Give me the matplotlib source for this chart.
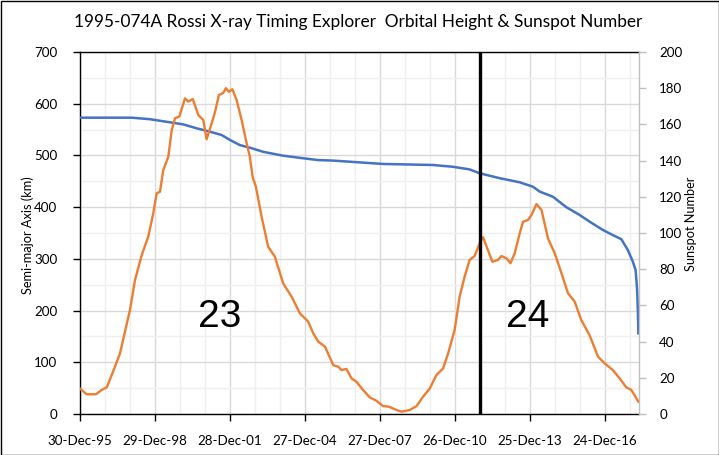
import datetime as dt
import matplotlib
matplotlib.use("Agg")
import matplotlib.pyplot as plt
import matplotlib.dates as mdates
from matplotlib.patches import Rectangle

# ---------------- data ----------------
title = "1995-074A Rossi X-ray Timing Explorer  Orbital Height & Sunspot Number"
left_label = "Semi-major Axis (km)"
right_label = "Sunspot Number"

tick_dates = ["1995-12-30", "1998-12-29", "2001-12-28", "2004-12-27",
              "2007-12-27", "2010-12-26", "2013-12-25", "2016-12-24"]
tick_labels = ["30-Dec-95", "29-Dec-98", "28-Dec-01", "27-Dec-04",
               "27-Dec-07", "26-Dec-10", "25-Dec-13", "24-Dec-16"]
x_start = "1995-12-30"
x_end = "2018-04-30"
decommission_date = "2012-01-05"

# orbital height (decimal year, km)
sma_year = [1996.0, 1998.08, 1998.81, 1999.48, 2000.14, 2000.67, 2001.20, 2001.67,
            2002.0, 2002.40, 2002.87, 2003.33, 2004.13, 2004.93, 2005.53, 2006.13,
            2008.12, 2010.12, 2010.92, 2011.58, 2011.98, 2012.78, 2013.58, 2014.11,
            2014.38, 2014.91, 2015.44, 2015.97, 2016.37, 2016.90, 2017.30, 2017.64,
            2017.90, 2018.10, 2018.21, 2018.27, 2018.30, 2018.32]
sma_km = [573, 573, 570, 565, 560, 552.5, 546, 539.5,
          530, 520, 514, 507, 499.5, 494.5, 491, 490,
          483.5, 481.5, 478, 473, 465.5, 456, 448, 439.5,
          430, 420, 400, 385, 372, 356, 346, 338,
          317, 294.5, 278.5, 240, 201, 156]

# smoothed sunspot number (decimal year, SSN)
ssn_year = [1996.0, 1996.28, 1996.65, 1996.88, 1997.08, 1997.28, 1997.61, 1998.01,
            1998.21, 1998.48, 1998.74, 1998.94, 1999.08, 1999.21, 1999.34, 1999.54,
            1999.68, 1999.81, 1999.98, 2000.21, 2000.34, 2000.52, 2000.74, 2000.94,
            2001.07, 2001.21, 2001.41, 2001.56, 2001.74, 2001.84, 2001.96, 2002.10,
            2002.27, 2002.47, 2002.67, 2002.80, 2002.91, 2003.04, 2003.27, 2003.53,
            2003.80, 2004.13, 2004.47, 2004.80, 2005.13, 2005.33, 2005.53, 2005.80,
            2006.13, 2006.33, 2006.46, 2006.66, 2006.86, 2007.06, 2007.32, 2007.59,
            2007.86, 2008.12, 2008.36, 2008.66, 2008.86, 2009.19, 2009.46, 2009.72,
            2009.99, 2010.25, 2010.52, 2010.72, 2010.98, 2011.18, 2011.38, 2011.58,
            2011.78, 2011.98, 2012.12, 2012.31, 2012.49, 2012.71, 2012.85, 2013.05,
            2013.21, 2013.38, 2013.58, 2013.71, 2013.91, 2014.05, 2014.25, 2014.45,
            2014.71, 2014.98, 2015.25, 2015.51, 2015.78, 2016.04, 2016.37, 2016.71,
            2016.97, 2017.30, 2017.57, 2017.84, 2018.04, 2018.32]
ssn_value = [14.2, 10.9, 10.9, 13.3, 14.7, 21.5, 33.5, 57.5,
             74, 87.8, 98, 110.9, 122, 122.8, 134.8, 142,
             157, 163.4, 164.3, 174.4, 172.6, 174, 165.2, 162.4,
             151.8, 157.8, 167, 176.2, 177.5, 180, 178, 179.4,
             173.5, 162.4, 149.6, 142, 131, 125.6, 109, 92.4,
             86.9, 72.2, 64.8, 55.6, 51, 44.6, 40, 37.2,
             27, 26.1, 24.3, 24.9, 19.7, 17.8, 13.3, 9.2,
             7.3, 4.4, 4.0, 2.2, 1.3, 2.2, 4.4, 9.6,
             14.2, 21.5, 25.2, 33.5, 46.4, 64.8, 75.9, 85.1,
             87.3, 94.3, 97.6, 90.6, 84.1, 85.1, 87.3, 86,
             83.3, 88.8, 99.8, 106.2, 107.2, 109.9, 116, 112.7,
             97, 88.8, 77.7, 66.7, 62, 51.9, 43.6, 31.7,
             28, 24.3, 19.7, 14.7, 13.3, 6.8]

cycle_labels = ["23", "24"]
cycle_year = [2001.58, 2013.88]
cycle_ssn = [53.6, 53.6]


def to_date(y):
    yi = int(y)
    return dt.datetime(yi, 1, 1) + dt.timedelta(days=(y - yi) * 365.25)


def parse(s):
    return dt.datetime.strptime(s, "%Y-%m-%d")


# ---------------- figure ----------------
plt.rcParams["font.family"] = ["Lato", "DejaVu Sans"]
W, H = 719, 455
fig = plt.figure(figsize=(W / 100, H / 100), dpi=100)
fig.patch.set_facecolor("white")

L, R, T, B = 79.5, 638.5, 52, 414
ax = fig.add_axes([L / W, 1 - B / H, (R - L) / W, (B - T) / H])
ax2 = ax.twinx()

BLUE = "#4472C4"
ORANGE = "#ED7D31"

sma_dates = [to_date(y) for y in sma_year]
ssn_dates = [to_date(y) for y in ssn_year]

ax.plot(sma_dates, sma_km, color=BLUE, lw=1.8, solid_joinstyle="round", zorder=3)
ax2.plot(ssn_dates, ssn_value, color=ORANGE, lw=1.7, solid_joinstyle="round", zorder=3)
ax2.axvline(parse(decommission_date), color="black", lw=2.4, zorder=5)

for lab, yy, ss in zip(cycle_labels, cycle_year, cycle_ssn):
    ax2.text(to_date(yy), ss, lab, fontsize=28, family=["Liberation Sans", "DejaVu Sans"],
             ha="center", va="center", color="black", zorder=6)

# axes limits
ax.set_xlim(parse(x_start), parse(x_end))
ax.set_ylim(0, 700)
ax2.set_ylim(0, 200)

# x ticks
ax.set_xticks([parse(d) for d in tick_dates])
ax.set_xticklabels(tick_labels)
minor_x = [parse(x_start) + dt.timedelta(days=365 * k) for k in range(1, 23) if k % 3 != 0]
ax.set_xticks(minor_x, minor=True)
ax.set_yticks(range(0, 701, 100))
ax.set_yticks(range(50, 701, 100), minor=True)
ax2.set_yticks(range(0, 201, 20))

# grid
ax.grid(True, which="major", color="#d9d9d9", lw=1.0, zorder=0)
ax.grid(True, which="minor", color="#efefef", lw=1.0, zorder=0)
ax.set_axisbelow(True)

# spines
for s in ["left", "bottom", "top"]:
    ax.spines[s].set_color("black")
    ax.spines[s].set_linewidth(1.0)
ax.spines["right"].set_visible(False)
for s in ["left", "bottom", "top"]:
    ax2.spines[s].set_visible(False)
ax2.spines["right"].set_color("#bfbfbf")
ax2.spines["right"].set_linewidth(1.0)

TS = 9.6
ax.tick_params(axis="x", which="major", direction="out", length=5, width=1, color="black",
               labelsize=TS, pad=10, labelcolor="black")
ax.tick_params(axis="x", which="minor", length=0)
ax.tick_params(axis="y", which="major", direction="out", length=5, width=1, color="black",
               labelsize=TS, pad=11, labelcolor="black")
ax.tick_params(axis="y", which="minor", length=0)
ax2.tick_params(axis="y", direction="out", length=5, width=1, color="#bfbfbf",
                labelsize=TS, pad=10, labelcolor="black")

# labels & title
fig.text(358 / W, 1 - 22 / H, title, fontsize=12.4, ha="center", va="center", color="black")
fig.text(28 / W, 1 - 235 / H, left_label, fontsize=9.2, rotation=90,
         ha="center", va="center", color="black")
fig.text(691 / W, 1 - 224 / H, right_label, fontsize=9.2, rotation=90,
         ha="center", va="center", color="black")

# chart border
fig.patches.append(Rectangle((0.5 / W, 0.5 / H), (W - 1) / W, (H - 1) / H,
                             transform=fig.transFigure, fill=False,
                             edgecolor="black", lw=1.0))

fig.savefig("out.png", dpi=100)
